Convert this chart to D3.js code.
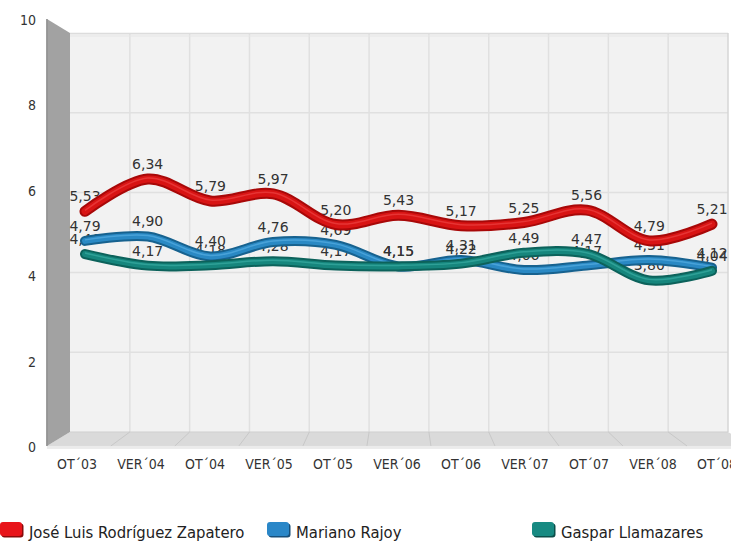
<!DOCTYPE html>
<html><head><meta charset="utf-8">
<script src="https://cdn.jsdelivr.net/npm/d3@7"></script>
<style>html,body{margin:0;padding:0;background:#fff;} svg{display:block;}</style>
</head><body>
<svg id="c" width="731" height="545"></svg>
<script>
const categories = ["OT´03","VER´04","OT´04","VER´05","OT´05","VER´06","OT´06","VER´07","OT´07","VER´08","OT´08"];
const zapatero   = [5.53,6.34,5.79,5.97,5.20,5.43,5.17,5.25,5.56,4.79,5.21];
const rajoy      = [4.79,4.90,4.40,4.76,4.69,4.15,4.31,4.06,4.17,4.31,4.12];
const llamazares = [4.46,4.17,4.18,4.28,4.17,4.15,4.22,4.49,4.47,3.80,4.04];
const seriesNames = ["José Luis Rodríguez Zapatero","Mariano Rajoy","Gaspar Llamazares"];
const yTicks = [0,2,4,6,8,10];

const series = [
  {name: seriesNames[0], values: zapatero,   dark:"#a80808", mid:"#d81414", light:"#f04a4a", sw:"#e8141a", swb:"#8a0a0a", w:11},
  {name: seriesNames[1], values: rajoy,      dark:"#17628f", mid:"#2a89c4", light:"#5db3e6", sw:"#2a87c8", swb:"#174f7a", w:10},
  {name: seriesNames[2], values: llamazares, dark:"#0c625b", mid:"#16867d", light:"#3fb2a8", sw:"#178a82", swb:"#0b4f4a", w:10}
];

const svg = d3.select("#c");
const fmt = v => d3.format(".2f")(v).replace(".", ",");

// scales
const yBack  = d3.scaleLinear().domain([0,10]).range([432,33]);
const yFront = d3.scaleLinear().domain([0,10]).range([447,20]);
const band   = d3.scaleBand().domain(categories).range([70,728]);
const xLine  = d3.scalePoint().domain(categories).range([85,712]);
const xLab   = d3.scalePoint().domain(categories).range([77,717]);

// perspective projection from back plane to front plane
const PC = {x:400, y:233, s:1.07};
const front = (x,y) => [PC.x + (x-PC.x)*PC.s, PC.y + (y-PC.y)*PC.s];

const g = svg.append("g");
const x0 = band.range()[0], x1 = band.range()[1];
const yb0 = yBack(0), yb1 = yBack(10);

// back wall
g.append("rect").attr("x",x0).attr("y",yb1).attr("width",x1-x0).attr("height",yb0-yb1).attr("fill","#f2f2f2");
g.selectAll("line.hg").data(yTicks.filter(d=>d>0 && d<10)).join("line")
  .attr("x1",x0).attr("x2",x1).attr("y1",d=>yBack(d)).attr("y2",d=>yBack(d))
  .attr("stroke","#e0e0e0").attr("stroke-width",1.5);
g.selectAll("line.vg").data(categories.slice(1)).join("line")
  .attr("x1",d=>band(d)).attr("x2",d=>band(d)).attr("y1",yb1).attr("y2",yb0)
  .attr("stroke","#e0e0e0").attr("stroke-width",1.5);
g.append("line").attr("x1",x0).attr("x2",x1).attr("y1",yb1+0.5).attr("y2",yb1+0.5).attr("stroke","#dcdcdc").attr("stroke-width",1.5);
g.append("line").attr("x1",x0).attr("x2",x1).attr("y1",yb1+3).attr("y2",yb1+3).attr("stroke","#e6e6e6").attr("stroke-width",1);
g.append("line").attr("x1",x1).attr("x2",x1).attr("y1",yb1).attr("y2",yb0).attr("stroke","#d6d6d6").attr("stroke-width",1.5);

// floor
const fl = front(x0,yb0), fr = front(x1,yb0);
g.append("polygon").attr("points",[[x0,yb0],[x1,yb0],fr,fl].map(p=>p.join(",")).join(" ")).attr("fill","#dadada");
g.append("rect").attr("x",fl[0]).attr("y",fl[1]).attr("width",760).attr("height",3).attr("fill","#ebebeb");
g.append("line").attr("x1",x0).attr("x2",x1).attr("y1",yb0).attr("y2",yb0).attr("stroke","#cfcfcf").attr("stroke-width",1);
g.selectAll("line.fd").data(categories.slice(1)).join("line")
  .attr("x1",d=>band(d)).attr("y1",yb0)
  .attr("x2",d=>front(band(d),yb0)[0]).attr("y2",d=>front(band(d),yb0)[1])
  .attr("stroke","#c8c8c8").attr("stroke-width",1);

// side wall
const ft = front(x0,yb1);
g.append("polygon").attr("points",[ft,[x0,yb1],[x0,yb0],fl].map(p=>p.join(",")).join(" ")).attr("fill","#a2a2a2");
g.append("line").attr("x1",ft[0]).attr("x2",fl[0]).attr("y1",ft[1]).attr("y2",fl[1]).attr("stroke","#8e8e8e").attr("stroke-width",1.5);

// y axis labels
g.selectAll("text.yl").data(yTicks).join("text")
  .attr("x",36).attr("y",d=>yFront(d)).attr("dy","0.35em")
  .attr("text-anchor","end").attr("font-family","DejaVu Sans Condensed, DejaVu Sans").attr("font-size",14).attr("fill","#333")
  .text(d=>d);

// x axis labels
g.selectAll("text.xl").data(categories).join("text")
  .attr("x",d=>xLab(d)).attr("y",469)
  .attr("text-anchor","middle").attr("font-family","DejaVu Sans Condensed, DejaVu Sans").attr("font-size",14).attr("fill","#333")
  .text(d=>d);

// data labels (drawn under lines)
series.forEach(s=>{
  g.append("g").selectAll("text").data(s.values).join("text")
    .attr("x",(v,i)=>xLine(categories[i])).attr("y",v=>yBack(v)-10)
    .attr("text-anchor","middle").attr("font-family","DejaVu Sans").attr("font-size",14).attr("fill","#333")
    .text(v=>fmt(v));
});

// lines
const line = d3.line().x((v,i)=>xLine(categories[i])).y(v=>yBack(v)).curve(d3.curveCatmullRom.alpha(0.5));
series.forEach(s=>{
  const lg = g.append("g");
  lg.append("path").attr("d",line(s.values)).attr("fill","none").attr("stroke",s.dark).attr("stroke-width",s.w).attr("stroke-linecap","round");
  lg.append("path").attr("d",line(s.values)).attr("fill","none").attr("stroke",s.mid).attr("stroke-width",s.w-4).attr("stroke-linecap","round");
  lg.append("path").attr("d",line(s.values)).attr("fill","none").attr("stroke",s.light).attr("stroke-width",1.5).attr("stroke-opacity",0.6)
    .attr("transform","translate(0,-1)");
});

// legend
const legendX = [0, 267, 532];
series.forEach((s,i)=>{
  const lg = g.append("g").attr("transform",`translate(${legendX[i]},522)`);
  lg.append("rect").attr("x",1.5).attr("y",1.5).attr("width",22).attr("height",14).attr("rx",3).attr("fill",s.swb);
  lg.append("rect").attr("x",0).attr("y",0).attr("width",22).attr("height",14).attr("rx",3).attr("fill",s.sw);
  lg.append("text").attr("x",29).attr("y",15.5).attr("font-family","DejaVu Sans Condensed, DejaVu Sans").attr("font-size",16.5).attr("fill","#222").text(s.name);
});
</script>
</body></html>
